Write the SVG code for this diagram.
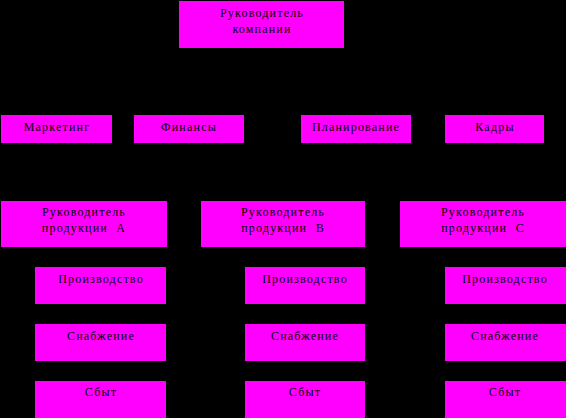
<svg xmlns="http://www.w3.org/2000/svg" width="566" height="418" viewBox="0 0 566 418">
<style>
.box{fill:#ff00ff;stroke:none}
text{font-family:"Liberation Serif","Times New Roman",serif;font-size:12px;fill:#000;text-anchor:middle;letter-spacing:1.2px}
</style>
<rect x="0" y="0" width="566" height="418" fill="#000"/>
<g id="connectors"></g>
<g id="ceo"><rect class="box" x="179" y="1" width="165" height="47"/><text x="262" y="17">Руководитель</text><text x="262" y="33">компании</text></g>
<g id="marketing"><rect class="box" x="1" y="115" width="111" height="28"/><text x="57" y="131">Маркетинг</text></g>
<g id="finance"><rect class="box" x="134" y="115" width="110" height="28"/><text x="189" y="131">Финансы</text></g>
<g id="planning"><rect class="box" x="301" y="115" width="110" height="28"/><text x="356" y="131">Планирование</text></g>
<g id="hr"><rect class="box" x="445" y="115" width="99" height="28"/><text x="495" y="131">Кадры</text></g>
<g id="headA"><rect class="box" x="1" y="201" width="166" height="46"/><text x="84" y="216">Руководитель</text><text x="84" y="232">продукции&#160;&#160;А</text></g>
<g id="headB"><rect class="box" x="201" y="201" width="164" height="46"/><text x="283" y="216">Руководитель</text><text x="283" y="232">продукции&#160;&#160;В</text></g>
<g id="headC"><rect class="box" x="400" y="201" width="166" height="46"/><text x="483" y="216">Руководитель</text><text x="483" y="232">продукции&#160;&#160;С</text></g>
<g id="prodA"><rect class="box" x="35" y="267" width="131" height="37"/><text x="101" y="283">Производство</text></g>
<g id="supA"><rect class="box" x="35" y="324" width="131" height="37"/><text x="101" y="340">Снабжение</text></g>
<g id="salesA"><rect class="box" x="35" y="381" width="131" height="37"/><text x="101" y="396">Сбыт</text></g>
<g id="prodB"><rect class="box" x="245" y="267" width="120" height="37"/><text x="305" y="283">Производство</text></g>
<g id="supB"><rect class="box" x="245" y="324" width="120" height="37"/><text x="305" y="340">Снабжение</text></g>
<g id="salesB"><rect class="box" x="245" y="381" width="120" height="37"/><text x="305" y="396">Сбыт</text></g>
<g id="prodC"><rect class="box" x="445" y="267" width="121" height="37"/><text x="505" y="283">Производство</text></g>
<g id="supC"><rect class="box" x="445" y="324" width="121" height="37"/><text x="505" y="340">Снабжение</text></g>
<g id="salesC"><rect class="box" x="445" y="381" width="121" height="37"/><text x="505" y="396">Сбыт</text></g>
</svg>
